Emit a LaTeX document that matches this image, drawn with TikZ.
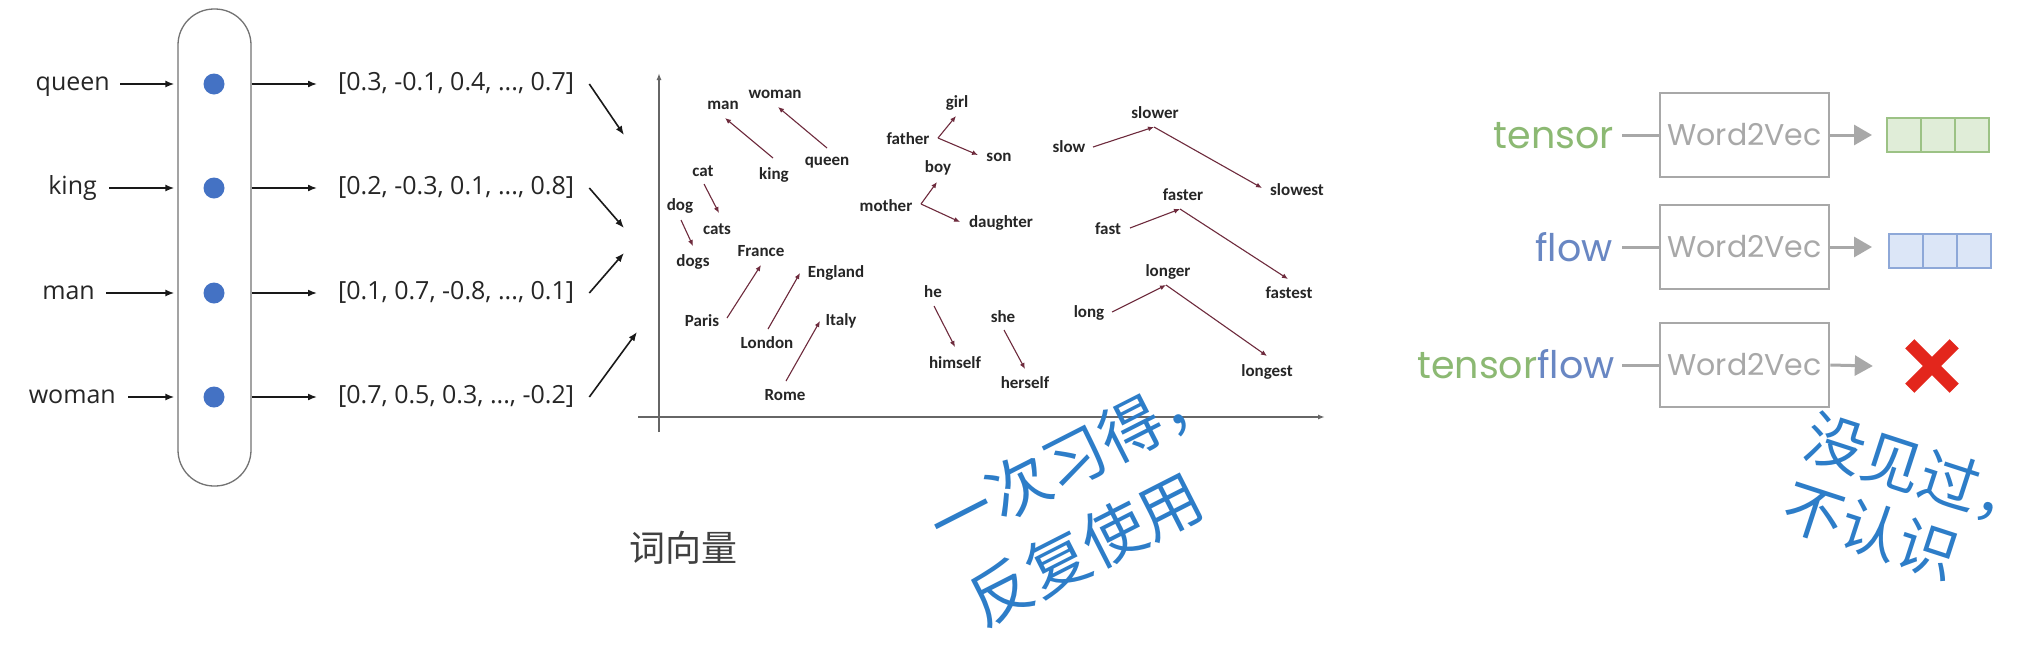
\documentclass[tikz,border=0pt]{standalone}
\usepackage{fontspec}
\usetikzlibrary{arrows.meta,calc}
\newfontfamily\osans{Open Sans}
\newfontfamily\carl{Carlito}
\newfontfamily\pop{Poppins}
\newfontfamily\cjk{Noto Sans CJK SC}
\definecolor{dotblue}{HTML}{4472C4}
\definecolor{vecred}{HTML}{6E2B3D}
\definecolor{cnblue}{RGB}{45,125,200}
\definecolor{boxgray}{HTML}{A8A8A8}
\definecolor{tgreen}{RGB}{140,185,115}
\definecolor{fblue}{RGB}{105,135,195}
\definecolor{cellg}{HTML}{E0EDD8}
\definecolor{cellgb}{HTML}{9CC285}
\definecolor{cellb}{HTML}{DCE6F7}
\definecolor{cellbb}{HTML}{8EA8D8}
\definecolor{xred}{HTML}{E3261C}
\begin{document}
\begin{tikzpicture}[x=1pt,y=-1pt,
  wordlbl/.style={font=\osans\fontsize{25}{30}\selectfont, inner sep=0pt, text height=18pt, text depth=6pt, anchor=east, text=black!85},
  veclbl/.style={wordlbl, anchor=west},
  dotnode/.style={circle, fill=dotblue, minimum size=21pt, inner sep=0pt},
  larr/.style={-{Latex[length=9pt,width=7pt]}, line width=1.6pt, black!90},
  clbl/.style={font=\carl\bfseries\fontsize{17}{17}\selectfont, inner sep=0pt, text=black!85},
  varr/.style={-{Latex[length=6pt,width=5pt]}, line width=1.1pt, vecred},
  axisline/.style={-{Latex[length=7pt,width=5pt]}, line width=1.4pt, black!60},
  cnlbl/.style={font=\cjk\fontsize{63}{86}\selectfont, text=cnblue, align=left, inner sep=0pt},
  cnlblb/.style={font=\cjk\fontsize{60}{72}\selectfont, text=cnblue, align=left, inner sep=0pt},
  rtxt/.style={font=\pop\fontsize{38}{40}\selectfont, inner sep=0pt, anchor=base east},
  wbox/.style={draw=boxgray, line width=2.6pt, minimum width=169pt, minimum height=84pt, inner sep=0pt, font=\pop\fontsize{30}{30}\selectfont, text=boxgray},
  gline/.style={line width=3pt, boxgray},
  garr/.style={-{Triangle[length=18pt,width=20pt]}, line width=3pt, boxgray},
  gcell/.style={draw=cellgb, fill=cellg, line width=2pt, minimum size=34pt, inner sep=0pt},
  bcell/.style={draw=cellbb, fill=cellb, line width=2pt, minimum size=34pt, inner sep=0pt}]
\useasboundingbox[fill=white] (0,0) rectangle (2032,646);

% ---------- left: embedding layer ----------
\node[draw=black!55, line width=1.3pt, rounded corners=36pt, minimum width=73pt, minimum height=477pt, inner sep=0pt] (pill) at (214.5,247.5) {};
\node[dotnode] (dq) at (214,84) {};
\node[dotnode] (dk) at (214,188) {};
\node[dotnode] (dm) at (214,293) {};
\node[dotnode] (dw) at (214,397) {};
\node[wordlbl] (wq) at (110,84) {queen};
\node[wordlbl] (wk) at (97,188) {king};
\node[wordlbl] (wm) at (95,293) {man};
\node[wordlbl] (ww) at (116,397) {woman};
\foreach \w/\d/\s in {wq/dq/10,wk/dk/12,wm/dm/11,ww/dw/12}
  \draw[larr] ([xshift=\s pt]\w.east) -- ([xshift=-3pt]\d -| pill.west);
\node[veclbl] (vq) at (338,84) {[0.3, -0.1, 0.4, ..., 0.7]};
\node[veclbl] (vk) at (338,188) {[0.2, -0.3, 0.1, ..., 0.8]};
\node[veclbl] (vm) at (338,293) {[0.1, 0.7, -0.8, ..., 0.1]};
\node[veclbl] (vw) at (338,397) {[0.7, 0.5, 0.3, ..., -0.2]};
\foreach \d/\v in {dq/vq,dk/vk,dm/vm,dw/vw}
  \draw[larr] (\d -| pill.east) -- ([xshift=-21pt]\v.west);
\coordinate (e1) at (624,135);
\coordinate (e2) at (624,228);
\coordinate (e3) at (624,253);
\coordinate (e4) at (637,332);
\draw[larr] ([xshift=15pt]vq.east) -- (e1);
\draw[larr] ([xshift=15pt]vk.east) -- (e2);
\draw[larr] ([xshift=15pt]vm.east) -- (e3);
\draw[larr] ([xshift=15pt]vw.east) -- (e4);

% ---------- middle: vector space ----------
\coordinate (yb) at (659,432);
\coordinate (yt) at (659,73);
\coordinate (xl) at (638,417);
\coordinate (xr) at (1325,417);
\draw[axisline] (yb) -- (yt);
\draw[axisline] (xl) -- (xr);

\node[clbl] (cman) at (723,105) {man};
\node[clbl] (cwoman) at (775,94) {woman};
\node[clbl] (cking) at (774,175) {king};
\node[clbl] (cqueen) at (827,163) {queen};
\node[clbl] (ccat) at (703,171) {cat};
\node[clbl] (ccats) at (717,229) {cats};
\node[clbl] (cdog) at (680,206) {dog};
\node[clbl] (cdogs) at (693,262) {dogs};
\node[clbl] (cfrance) at (761,251) {France};
\node[clbl] (cparis) at (702,321) {Paris};
\node[clbl] (cengland) at (836,273) {England};
\node[clbl] (clondon) at (767,343) {London};
\node[clbl] (citaly) at (841,321) {Italy};
\node[clbl] (crome) at (785,395) {Rome};
\node[clbl] (cgirl) at (957,103) {girl};
\node[clbl] (cfather) at (908,139) {father};
\node[clbl] (cson) at (999,157) {son};
\node[clbl] (cboy) at (938,168) {boy};
\node[clbl] (cmother) at (886,206) {mother};
\node[clbl] (cdaughter) at (1001,223) {daughter};
\node[clbl] (che) at (933,292) {he};
\node[clbl] (chimself) at (955,363) {himself};
\node[clbl] (cshe) at (1003,317) {she};
\node[clbl] (cherself) at (1025,383) {herself};
\node[clbl] (cslower) at (1155,113) {slower};
\node[clbl] (cslow) at (1069,147) {slow};
\node[clbl] (cslowest) at (1297,190) {slowest};
\node[clbl] (cfaster) at (1183,195) {faster};
\node[clbl] (cfast) at (1108,229) {fast};
\node[clbl] (cfastest) at (1289,293) {fastest};
\node[clbl] (clonger) at (1168,272) {longer};
\node[clbl] (clong) at (1089,313) {long};
\node[clbl] (clongest) at (1267,372) {longest};

\draw[varr] ([shift={(-1,-17)}]cking.center) -- ([shift={(2,13)}]cman.center);
\draw[varr] ([shift={(0,-15)}]cqueen.center) -- ([shift={(3,13)}]cwoman.center);
\draw[varr] ([shift={(1,13)}]ccat.center) -- ([shift={(2,-16)}]ccats.center);
\draw[varr] ([shift={(1,14)}]cdog.center) -- ([shift={(0,-16)}]cdogs.center);
\draw[varr] ([shift={(25,-3)}]cparis.center) -- ([shift={(0,14)}]cfrance.center);
\draw[varr] ([shift={(1,-14)}]clondon.center) -- ([shift={(-36,0)}]cengland.center);
\draw[varr] ([shift={(1,-14)}]crome.center) -- ([shift={(-21,0)}]citaly.center);
\draw[varr] ([shift={(30,-1)}]cfather.center) -- ([shift={(-1,13)}]cgirl.center);
\draw[varr] ([shift={(30,-1)}]cfather.center) -- ([shift={(-21,-2)}]cson.center);
\draw[varr] ([shift={(35,-2)}]cmother.center) -- ([shift={(-1,14)}]cboy.center);
\draw[varr] ([shift={(35,-2)}]cmother.center) -- ([shift={(-41,-1)}]cdaughter.center);
\draw[varr] ([shift={(1,14)}]che.center) -- ([shift={(0,-16)}]chimself.center);
\draw[varr] ([shift={(1,13)}]cshe.center) -- ([shift={(0,-14)}]cherself.center);
\draw[varr] ([shift={(24,0)}]cslow.center) -- ([shift={(-1,14)}]cslower.center);
\draw[varr] ([shift={(-1,14)}]cslower.center) -- ([shift={(-35,-2)}]cslowest.center);
\draw[varr] ([shift={(22,-1)}]cfast.center) -- ([shift={(-3,14)}]cfaster.center);
\draw[varr] ([shift={(-3,14)}]cfaster.center) -- ([shift={(-1,-14)}]cfastest.center);
\draw[varr] ([shift={(23,-1)}]clong.center) -- ([shift={(-2,13)}]clonger.center);
\draw[varr] ([shift={(-2,13)}]clonger.center) -- ([shift={(0,-16)}]clongest.center);

\node[font=\cjk\fontsize{36}{36}\selectfont, text=black!75, inner sep=0pt] (cxl) at (683,548) {词向量};
\node[cnlbl, rotate=27] (t1) at (1094,496) {一次习得，\\反复使用};

% ---------- right: Word2Vec ----------
\node[rtxt, text=tgreen] (tensor) at (1614,148) {tensor};
\node[rtxt, text=fblue] (flow) at (1613,261) {flow};
\node[rtxt] (tf) at (1615,378) {\textcolor{tgreen}{tensor}\textcolor{fblue}{flow}};
\node[wbox] (w1) at (1744.5,135) {Word2Vec};
\node[wbox] (w2) at (1744.5,247) {Word2Vec};
\node[wbox] (w3) at (1744.5,365) {Word2Vec};
\draw[gline] ($(tensor.east |- w1.west)+(8,0)$) -- (w1.west);
\draw[gline] ($(flow.east |- w2.west)+(9,0)$) -- (w2.west);
\draw[gline] ($(tf.east |- w3.west)+(7,0)$) -- (w3.west);
\node[gcell] (g1) at (1904,135) {};
\node[gcell] (g2) at (1938,135) {};
\node[gcell] (g3) at (1972,135) {};
\node[bcell] (b1) at (1906,251) {};
\node[bcell] (b2) at (1940,251) {};
\node[bcell] (b3) at (1974,251) {};
\node[minimum size=44pt, inner sep=0pt] (xm) at (1932,366) {};
\draw[xred, line width=13pt] (xm.north west) -- (xm.south east) (xm.north east) -- (xm.south west);
\draw[garr] (w1.east) -- ([xshift=-14pt]g1.west);
\draw[garr] (w2.east) -- ($(b1.west |- w2.east)+(-16,0)$);
\draw[garr] (w3.east) -- ([xshift=-37pt]xm.west);
\node[cnlblb, rotate=-18] (t2) at (1896,501) {没见过\makebox[0.5em][l]{，}\\不认识};
\end{tikzpicture}
\end{document}
